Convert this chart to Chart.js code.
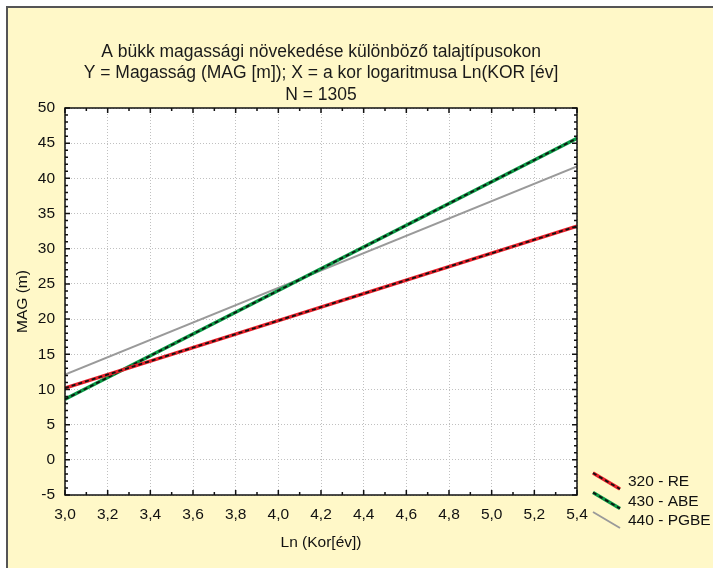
<!DOCTYPE html>
<html><head><meta charset="utf-8">
<script src="https://cdn.jsdelivr.net/npm/chart.js@4/dist/chart.umd.min.js"></script>
<style>html,body{margin:0;padding:0;background:#fff;}#wrap{width:713px;height:568px;}</style>
</head><body><div id="wrap"><canvas id="c" width="713" height="568"></canvas></div>
<script>
// ---- data ----
const titleLines = ['A bükk magassági növekedése különböző talajtípusokon',
  'Y = Magasság (MAG [m]); X = a kor logaritmusa Ln(KOR [év]',
  'N = 1305'];
const seriesNames = ['320 - RE', '430 - ABE', '440 - PGBE'];
const xValues = [3.0, 5.4];
const reValues = [10.2, 33.2];
const abeValues = [8.6, 45.7];
const pgbeValues = [12.1, 41.7];
const xTitle = 'Ln (Kor[év])';
const yTitle = 'MAG (m)';

const FONT = '"Liberation Sans", Arial, sans-serif';
const pts = arr => xValues.map((x, i) => ({x: x, y: arr[i]}));

const bgPlugin = {
  id: 'bg',
  beforeDraw(chart) {
    const c = chart.ctx, a = chart.chartArea;
    c.save();
    c.fillStyle = '#ffffff'; c.fillRect(0, 0, chart.width, chart.height);
    c.fillStyle = '#fff8c8'; c.fillRect(7, 7, chart.width - 7, chart.height - 7);
    c.strokeStyle = '#555'; c.lineWidth = 2;
    c.beginPath(); c.moveTo(7, chart.height); c.lineTo(7, 7); c.lineTo(chart.width, 7); c.stroke();
    c.fillStyle = '#ffffff'; c.fillRect(a.left, a.top, a.right - a.left, a.bottom - a.top);
    // titles
    c.fillStyle = '#1a1a1a'; c.font = '17.5px ' + FONT; c.textAlign = 'center'; c.textBaseline = 'middle';
    const cx = (a.left + a.right) / 2;
    titleLines.forEach((t, i) => c.fillText(t, cx, 52 + i * 21.5));
    c.restore();
  },
  afterDraw(chart) {
    const c = chart.ctx, a = chart.chartArea, xs = chart.scales.x, ys = chart.scales.y;
    c.save();
    c.strokeStyle = '#111'; c.lineWidth = 1.5;
    c.strokeRect(a.left, a.top, a.right - a.left, a.bottom - a.top);
    c.lineWidth = 1.5;
    for (let k = 0; k <= 24; k++) {
      const v = 3 + k * 0.1, px = xs.getPixelForValue(v);
      const len = (k % 2 === 0) ? 5 : 3;
      c.beginPath(); c.moveTo(px, a.bottom); c.lineTo(px, a.bottom - len);
      c.moveTo(px, a.top); c.lineTo(px, a.top + len); c.stroke();
    }
    for (let v = -5; v <= 50; v++) {
      const py = ys.getPixelForValue(v);
      const len = (v % 5 === 0) ? 5 : 3;
      c.beginPath(); c.moveTo(a.left, py); c.lineTo(a.left + len, py);
      c.moveTo(a.right, py); c.lineTo(a.right - len, py); c.stroke();
    }
    // legend
    const items = chart.data.datasets.filter(d => d.legendItem);
    items.forEach((d, i) => {
      const y0 = 473 + i * 19.5;
      c.lineCap = 'butt';
      c.strokeStyle = d.borderColor; c.lineWidth = d.borderWidth; c.setLineDash([]);
      c.beginPath(); c.moveTo(593, y0); c.lineTo(620, y0 + 16); c.stroke();
      if (d.dashed) {
        c.strokeStyle = '#111'; c.lineWidth = 1.8; c.setLineDash([4, 3]);
        c.beginPath(); c.moveTo(593, y0); c.lineTo(620, y0 + 16); c.stroke();
        c.setLineDash([]);
      }
      c.fillStyle = '#111'; c.font = '15.5px ' + FONT; c.textAlign = 'left'; c.textBaseline = 'middle';
      c.fillText(d.label, 628, y0 + 9);
    });
    c.restore();
  }
};

const tickFont = {family: FONT, size: 15.5};
new Chart(document.getElementById('c'), {
  type: 'line',
  data: {
    datasets: [
      {label: seriesNames[0] + ' overlay', data: pts(reValues), borderColor: '#111', borderWidth: 1.8, borderDash: [4, 3], order: 0},
      {label: seriesNames[0], data: pts(reValues), borderColor: '#e8202a', borderWidth: 3.5, order: 1, legendItem: true, dashed: true},
      {label: seriesNames[1] + ' overlay', data: pts(abeValues), borderColor: '#111', borderWidth: 1.8, borderDash: [4, 3], order: 2},
      {label: seriesNames[1], data: pts(abeValues), borderColor: '#0a9a45', borderWidth: 3.5, order: 3, legendItem: true, dashed: true},
      {label: seriesNames[2], data: pts(pgbeValues), borderColor: '#9a9a9a', borderWidth: 2, order: 4, legendItem: true}
    ]
  },
  options: {
    responsive: false, animation: false, devicePixelRatio: 1,
    layout: {padding: {top: 108, right: 136, left: 0, bottom: 0}},
    elements: {point: {radius: 0}, line: {tension: 0}},
    plugins: {legend: {display: false}, tooltip: {enabled: false}, title: {display: false}},
    scales: {
      x: {
        type: 'linear', min: 3, max: 5.4,
        afterFit: s => { s.height = 73; },
        ticks: {stepSize: 0.2, padding: 10, color: '#111', font: tickFont,
          callback: v => Number(v).toFixed(1).replace('.', ',')},
        grid: {color: '#c0c0c0', lineWidth: 1, drawTicks: false},
        border: {display: false, dash: [1, 2]},
        title: {display: true, text: xTitle, color: '#111', font: tickFont, padding: {top: 0, bottom: 16}}
      },
      y: {
        min: -5, max: 50,
        afterFit: s => { s.width = 65; },
        ticks: {stepSize: 5, padding: 10, color: '#111', font: tickFont},
        grid: {color: '#c0c0c0', lineWidth: 1, drawTicks: false},
        border: {display: false, dash: [1, 2]},
        title: {display: true, text: yTitle, color: '#111', font: tickFont, padding: {top: 13, bottom: 0}}
      }
    }
  },
  plugins: [bgPlugin]
});
</script></body></html>
